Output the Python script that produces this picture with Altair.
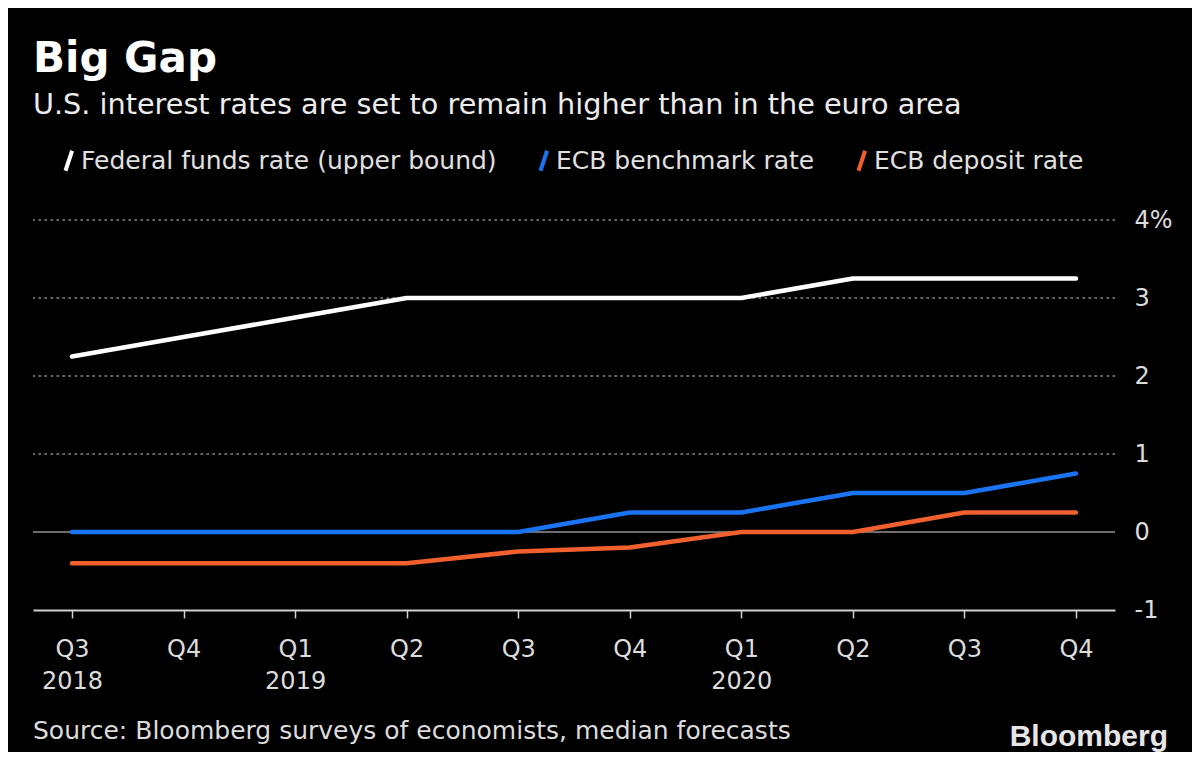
import altair as alt
import pandas as pd

quarters = ["Q3 2018", "Q4 2018", "Q1 2019", "Q2 2019", "Q3 2019",
            "Q4 2019", "Q1 2020", "Q2 2020", "Q3 2020", "Q4 2020"]
year_shown = ["Q3 2018", "Q1 2019", "Q1 2020"]
fed_funds = [2.25, 2.5, 2.75, 3.0, 3.0, 3.0, 3.0, 3.25, 3.25, 3.25]
ecb_benchmark = [0, 0, 0, 0, 0, 0.25, 0.25, 0.5, 0.5, 0.75]
ecb_deposit = [-0.4, -0.4, -0.4, -0.4, -0.25, -0.2, 0, 0, 0.25, 0.25]
series_names = ["Federal funds rate (upper bound)", "ECB benchmark rate", "ECB deposit rate"]
series_colors = ["#ffffff", "#1a73f2", "#f2602f"]
y_ticks = [-1, 0, 1, 2, 3, 4]
grid_values = [1, 2, 3, 4]
zero_value = [0]
title_text = "Big Gap"
subtitle_text = "U.S. interest rates are set to remain higher than in the euro area"
source_text = "Source: Bloomberg surveys of economists, median forecasts"
brand_text = "Bloomberg"

FONT = "DejaVu Sans"

rows = []
for name, vals in zip(series_names, [fed_funds, ecb_benchmark, ecb_deposit]):
    for q, v in zip(quarters, vals):
        rows.append({"quarter": q, "series": name, "value": v})
df = pd.DataFrame(rows)

yscale = alt.Scale(domain=[-1, 4], nice=False, zero=False)
yaxis = alt.Axis(orient="right", values=y_ticks, grid=False, ticks=False, domain=False,
                 labelPadding=19, labelFontSize=24, labelColor="#dcdcdc", labelFont=FONT,
                 labelExpr="datum.value == 4 ? '4%' : toString(datum.value)", title=None)

year_list = "[" + ",".join("'" + q + "'" for q in year_shown) + "]"
xaxis = alt.Axis(title=None, labelAngle=0, domainColor="#d0d0d0", domainWidth=2,
                 tickColor="#d0d0d0", tickSize=8, tickWidth=1.5,
                 labelFontSize=24, labelColor="#dcdcdc", labelFont=FONT,
                 labelPadding=19, labelLineHeight=32,
                 labelExpr="[split(datum.label, ' ')[0], indexof(" + year_list +
                           ", datum.label) >= 0 ? split(datum.label, ' ')[1] : '']")

grid = alt.Chart(pd.DataFrame({"v": grid_values})).mark_rule(
    color="#8a8a8a", strokeWidth=1.5, strokeDash=[2.5, 3.5]
).encode(y=alt.Y("v:Q", scale=yscale, axis=yaxis))

zero = alt.Chart(pd.DataFrame({"v": zero_value})).mark_rule(
    color="#6e6e6e", strokeWidth=2
).encode(y=alt.Y("v:Q", scale=yscale, axis=yaxis))

lines = alt.Chart(df).mark_line(strokeWidth=4.5, strokeCap="round", strokeJoin="round").encode(
    x=alt.X("quarter:O", sort=quarters, scale=alt.Scale(type="point", padding=0.35), axis=xaxis),
    y=alt.Y("value:Q", scale=yscale, axis=yaxis),
    color=alt.Color("series:N", scale=alt.Scale(domain=series_names, range=series_colors),
                    legend=alt.Legend(orient="none", legendX=23, legendY=-72, direction="horizontal",
                                      title=None, symbolType="M-0.3,1L0.36,-1", symbolSize=400,
                                      symbolStrokeWidth=4, labelFontSize=25, labelFont=FONT,
                                      labelColor="#e0e0e0", labelLimit=0, columnPadding=34,
                                      labelOffset=0)),
    order=alt.Order("series:N"),
)


def text_layer(txt, x, y, size, weight="normal", color="#e6e6e6", align="left", font=FONT):
    return alt.Chart(pd.DataFrame({"t": [txt]})).mark_text(
        align=align, baseline="alphabetic", font=font, fontSize=size,
        fontWeight=weight, color=color
    ).encode(x=alt.value(x), y=alt.value(y), text="t:N")


title = text_layer(title_text, 0, -148, 42, "bold", "#ffffff")
subtitle = text_layer(subtitle_text, 0, -106, 28.7, color="#ececec")
source = text_layer(source_text, 0, 519, 25, color="#dcdcdc")
brand = text_layer(brand_text, 1135, 526, 30, "bold", "#e6e6e6", "right", "Liberation Sans")

chart = alt.layer(grid, zero, lines, title, subtitle, source, brand).properties(
    width=1082, height=390,
    autosize=alt.AutoSizeParams(type="none"),
    padding={"left": 25, "top": 212, "right": 77, "bottom": 142},
    background="#000000",
).configure_view(stroke=None)

chart.save("out.html", embed_options={"renderer": "svg", "actions": False})
